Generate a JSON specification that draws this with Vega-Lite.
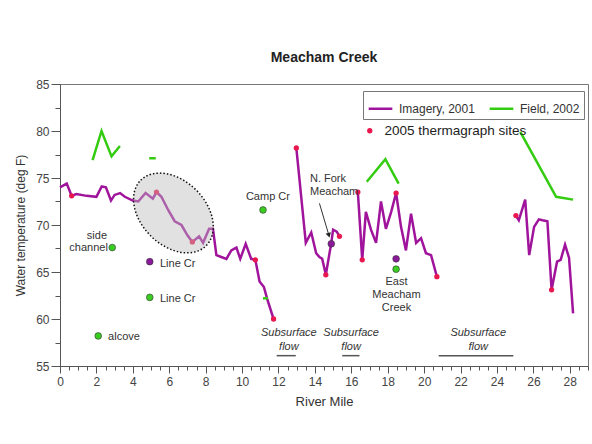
{
  "$schema": "https://vega.github.io/schema/vega-lite/v6.json",
  "width": 528,
  "height": 282,
  "autosize": {"type": "none"},
  "padding": {"left": 60, "top": 84, "right": 4, "bottom": 78},
  "background": "white",
  "title": {"text": "Meacham Creek", "fontSize": 14, "fontWeight": "bold", "font": "Liberation Sans", "color": "#222", "anchor": "middle", "offset": 13},
  "config": {
    "font": "Liberation Sans",
    "view": {"stroke": "#777", "strokeWidth": 1},
    "axis": {"grid": false, "domainColor": "#555", "tickColor": "#555", "labelColor": "#444", "labelFontSize": 12, "titleColor": "#333", "titleFontWeight": "normal", "labelFont": "Liberation Sans", "titleFont": "Liberation Sans"}
  },
  "datasets": {
    "lines": [
      {"series": "Imagery, 2001", "seg": "i1", "mile": 0, "temp": 74.0},
      {"series": "Imagery, 2001", "seg": "i1", "mile": 0.37, "temp": 74.4},
      {"series": "Imagery, 2001", "seg": "i1", "mile": 0.64, "temp": 73.1},
      {"series": "Imagery, 2001", "seg": "i1", "mile": 0.9, "temp": 73.3},
      {"series": "Imagery, 2001", "seg": "i1", "mile": 1.46, "temp": 73.1},
      {"series": "Imagery, 2001", "seg": "i1", "mile": 2.0, "temp": 73.0},
      {"series": "Imagery, 2001", "seg": "i1", "mile": 2.29, "temp": 74.1},
      {"series": "Imagery, 2001", "seg": "i1", "mile": 2.52, "temp": 74.0},
      {"series": "Imagery, 2001", "seg": "i1", "mile": 2.8, "temp": 72.6},
      {"series": "Imagery, 2001", "seg": "i1", "mile": 3.0, "temp": 73.2},
      {"series": "Imagery, 2001", "seg": "i1", "mile": 3.3, "temp": 73.4},
      {"series": "Imagery, 2001", "seg": "i1", "mile": 3.56, "temp": 73.0},
      {"series": "Imagery, 2001", "seg": "i1", "mile": 4.0, "temp": 72.6},
      {"series": "Imagery, 2001", "seg": "i1", "mile": 4.3, "temp": 72.5},
      {"series": "Imagery, 2001", "seg": "i1", "mile": 4.7, "temp": 73.4},
      {"series": "Imagery, 2001", "seg": "i1", "mile": 5.1, "temp": 72.8},
      {"series": "Imagery, 2001", "seg": "i1", "mile": 5.3, "temp": 73.5},
      {"series": "Imagery, 2001", "seg": "i1", "mile": 5.57, "temp": 73.0},
      {"series": "Imagery, 2001", "seg": "i1", "mile": 5.94, "temp": 71.6},
      {"series": "Imagery, 2001", "seg": "i1", "mile": 6.3, "temp": 70.4},
      {"series": "Imagery, 2001", "seg": "i1", "mile": 6.67, "temp": 70.0},
      {"series": "Imagery, 2001", "seg": "i1", "mile": 7.0, "temp": 68.9},
      {"series": "Imagery, 2001", "seg": "i1", "mile": 7.27, "temp": 68.2},
      {"series": "Imagery, 2001", "seg": "i1", "mile": 7.64, "temp": 68.8},
      {"series": "Imagery, 2001", "seg": "i1", "mile": 7.86, "temp": 68.1},
      {"series": "Imagery, 2001", "seg": "i1", "mile": 8.19, "temp": 69.6},
      {"series": "Imagery, 2001", "seg": "i1", "mile": 8.4, "temp": 69.6},
      {"series": "Imagery, 2001", "seg": "i1", "mile": 8.59, "temp": 66.8},
      {"series": "Imagery, 2001", "seg": "i1", "mile": 8.86, "temp": 66.6},
      {"series": "Imagery, 2001", "seg": "i1", "mile": 9.14, "temp": 66.4},
      {"series": "Imagery, 2001", "seg": "i1", "mile": 9.41, "temp": 67.3},
      {"series": "Imagery, 2001", "seg": "i1", "mile": 9.69, "temp": 67.6},
      {"series": "Imagery, 2001", "seg": "i1", "mile": 9.9, "temp": 66.4},
      {"series": "Imagery, 2001", "seg": "i1", "mile": 10.2, "temp": 68.0},
      {"series": "Imagery, 2001", "seg": "i1", "mile": 10.5, "temp": 66.4},
      {"series": "Imagery, 2001", "seg": "i1", "mile": 10.73, "temp": 66.3},
      {"series": "Imagery, 2001", "seg": "i1", "mile": 10.96, "temp": 64.0},
      {"series": "Imagery, 2001", "seg": "i1", "mile": 11.2, "temp": 63.4},
      {"series": "Imagery, 2001", "seg": "i1", "mile": 11.37, "temp": 62.2},
      {"series": "Imagery, 2001", "seg": "i1", "mile": 11.73, "temp": 60.0},
      {"series": "Imagery, 2001", "seg": "i2", "mile": 12.98, "temp": 78.2},
      {"series": "Imagery, 2001", "seg": "i2", "mile": 13.5, "temp": 68.1},
      {"series": "Imagery, 2001", "seg": "i2", "mile": 13.8, "temp": 69.2},
      {"series": "Imagery, 2001", "seg": "i2", "mile": 14.07, "temp": 67.0},
      {"series": "Imagery, 2001", "seg": "i2", "mile": 14.25, "temp": 66.6},
      {"series": "Imagery, 2001", "seg": "i2", "mile": 14.4, "temp": 66.4},
      {"series": "Imagery, 2001", "seg": "i2", "mile": 14.6, "temp": 64.7},
      {"series": "Imagery, 2001", "seg": "i2", "mile": 14.9, "temp": 68.1},
      {"series": "Imagery, 2001", "seg": "i2", "mile": 15.0, "temp": 69.5},
      {"series": "Imagery, 2001", "seg": "i2", "mile": 15.2, "temp": 69.3},
      {"series": "Imagery, 2001", "seg": "i2", "mile": 15.35, "temp": 68.8},
      {"series": "Imagery, 2001", "seg": "i3", "mile": 16.36, "temp": 73.5},
      {"series": "Imagery, 2001", "seg": "i3", "mile": 16.6, "temp": 66.3},
      {"series": "Imagery, 2001", "seg": "i3", "mile": 16.8, "temp": 71.4},
      {"series": "Imagery, 2001", "seg": "i3", "mile": 17.08, "temp": 69.5},
      {"series": "Imagery, 2001", "seg": "i3", "mile": 17.36, "temp": 68.1},
      {"series": "Imagery, 2001", "seg": "i3", "mile": 17.63, "temp": 72.5},
      {"series": "Imagery, 2001", "seg": "i3", "mile": 17.9, "temp": 69.6},
      {"series": "Imagery, 2001", "seg": "i3", "mile": 18.19, "temp": 71.4},
      {"series": "Imagery, 2001", "seg": "i3", "mile": 18.46, "temp": 73.4},
      {"series": "Imagery, 2001", "seg": "i3", "mile": 18.73, "temp": 69.8},
      {"series": "Imagery, 2001", "seg": "i3", "mile": 19.0, "temp": 67.3},
      {"series": "Imagery, 2001", "seg": "i3", "mile": 19.28, "temp": 71.2},
      {"series": "Imagery, 2001", "seg": "i3", "mile": 19.56, "temp": 68.1},
      {"series": "Imagery, 2001", "seg": "i3", "mile": 19.83, "temp": 68.6},
      {"series": "Imagery, 2001", "seg": "i3", "mile": 20.1, "temp": 67.0},
      {"series": "Imagery, 2001", "seg": "i3", "mile": 20.38, "temp": 66.8},
      {"series": "Imagery, 2001", "seg": "i3", "mile": 20.7, "temp": 64.5},
      {"series": "Imagery, 2001", "seg": "i4", "mile": 25.04, "temp": 71.0},
      {"series": "Imagery, 2001", "seg": "i4", "mile": 25.2, "temp": 70.5},
      {"series": "Imagery, 2001", "seg": "i4", "mile": 25.55, "temp": 72.7},
      {"series": "Imagery, 2001", "seg": "i4", "mile": 25.77, "temp": 66.8},
      {"series": "Imagery, 2001", "seg": "i4", "mile": 26.04, "temp": 69.8},
      {"series": "Imagery, 2001", "seg": "i4", "mile": 26.3, "temp": 70.6},
      {"series": "Imagery, 2001", "seg": "i4", "mile": 26.5, "temp": 70.5},
      {"series": "Imagery, 2001", "seg": "i4", "mile": 26.77, "temp": 70.4},
      {"series": "Imagery, 2001", "seg": "i4", "mile": 27.0, "temp": 63.1},
      {"series": "Imagery, 2001", "seg": "i4", "mile": 27.3, "temp": 66.1},
      {"series": "Imagery, 2001", "seg": "i4", "mile": 27.5, "temp": 66.3},
      {"series": "Imagery, 2001", "seg": "i4", "mile": 27.74, "temp": 67.9},
      {"series": "Imagery, 2001", "seg": "i4", "mile": 27.96, "temp": 66.5},
      {"series": "Imagery, 2001", "seg": "i4", "mile": 28.18, "temp": 60.6},
      {"series": "Field, 2002", "seg": "f1", "mile": 1.79, "temp": 76.9},
      {"series": "Field, 2002", "seg": "f1", "mile": 2.28, "temp": 80.0},
      {"series": "Field, 2002", "seg": "f1", "mile": 2.83, "temp": 77.3},
      {"series": "Field, 2002", "seg": "f1", "mile": 3.29, "temp": 78.4},
      {"series": "Field, 2002", "seg": "f2", "mile": 4.9, "temp": 77.1},
      {"series": "Field, 2002", "seg": "f2", "mile": 5.26, "temp": 77.1},
      {"series": "Field, 2002", "seg": "f3", "mile": 11.15, "temp": 62.2},
      {"series": "Field, 2002", "seg": "f3", "mile": 11.42, "temp": 62.2},
      {"series": "Field, 2002", "seg": "f4", "mile": 16.85, "temp": 74.6},
      {"series": "Field, 2002", "seg": "f4", "mile": 17.87, "temp": 77.0},
      {"series": "Field, 2002", "seg": "f4", "mile": 18.6, "temp": 74.4},
      {"series": "Field, 2002", "seg": "f5", "mile": 25.28, "temp": 79.9},
      {"series": "Field, 2002", "seg": "f5", "mile": 27.25, "temp": 73.0},
      {"series": "Field, 2002", "seg": "f5", "mile": 28.18, "temp": 72.7}
    ],
    "sites": [
      {"kind": "2005 thermagraph sites", "mile": 0.64, "temp": 73.1},
      {"kind": "2005 thermagraph sites", "mile": 5.3, "temp": 73.5},
      {"kind": "2005 thermagraph sites", "mile": 7.27, "temp": 68.2},
      {"kind": "2005 thermagraph sites", "mile": 10.73, "temp": 66.3},
      {"kind": "2005 thermagraph sites", "mile": 11.73, "temp": 60.0},
      {"kind": "2005 thermagraph sites", "mile": 12.98, "temp": 78.2},
      {"kind": "2005 thermagraph sites", "mile": 14.6, "temp": 64.7},
      {"kind": "2005 thermagraph sites", "mile": 15.35, "temp": 68.8},
      {"kind": "2005 thermagraph sites", "mile": 16.36, "temp": 73.5},
      {"kind": "2005 thermagraph sites", "mile": 16.6, "temp": 66.3},
      {"kind": "2005 thermagraph sites", "mile": 18.46, "temp": 73.4},
      {"kind": "2005 thermagraph sites", "mile": 20.7, "temp": 64.5},
      {"kind": "2005 thermagraph sites", "mile": 25.04, "temp": 71.0},
      {"kind": "2005 thermagraph sites", "mile": 27.0, "temp": 63.1}
    ],
    "tribs": [
      {"series": "Field, 2002", "name": "side channel", "mile": 2.87, "temp": 67.6},
      {"series": "Imagery, 2001", "name": "Line Cr", "mile": 4.93, "temp": 66.1},
      {"series": "Field, 2002", "name": "Line Cr", "mile": 4.93, "temp": 62.3},
      {"series": "Field, 2002", "name": "alcove", "mile": 2.1, "temp": 58.2},
      {"series": "Field, 2002", "name": "Camp Cr", "mile": 11.15, "temp": 71.6},
      {"series": "Imagery, 2001", "name": "N. Fork Meacham", "mile": 14.9, "temp": 68.0},
      {"series": "Imagery, 2001", "name": "East Meacham Creek", "mile": 18.46, "temp": 66.4},
      {"series": "Field, 2002", "name": "East Meacham Creek", "mile": 18.46, "temp": 65.3}
    ],
    "labelsCenter": [
      {"text": "side", "mile": 2.03, "temp": 68.83},
      {"text": "channel", "mile": 1.57, "temp": 67.55},
      {"text": "Camp Cr", "mile": 11.42, "temp": 72.98},
      {"text": "East", "mile": 18.48, "temp": 63.94},
      {"text": "Meacham", "mile": 18.48, "temp": 62.55},
      {"text": "Creek", "mile": 18.48, "temp": 61.17}
    ],
    "labelsLeft": [
      {"text": "Line Cr", "mile": 5.49, "temp": 65.85},
      {"text": "Line Cr", "mile": 5.49, "temp": 62.13},
      {"text": "alcove", "mile": 2.64, "temp": 58.09},
      {"text": "N. Fork", "mile": 13.73, "temp": 74.89},
      {"text": "Meacham", "mile": 13.73, "temp": 73.51}
    ],
    "labelsItalic": [
      {"text": "Subsurface", "mile": 12.57, "temp": 58.5},
      {"text": "flow", "mile": 12.57, "temp": 57.0},
      {"text": "Subsurface", "mile": 15.99, "temp": 58.5},
      {"text": "flow", "mile": 15.99, "temp": 57.0},
      {"text": "Subsurface", "mile": 22.97, "temp": 58.5},
      {"text": "flow", "mile": 22.97, "temp": 57.0}
    ],
    "subsurface": [
      {"from": 11.9, "to": 12.95, "temp": 56.1},
      {"from": 15.5, "to": 16.45, "temp": 56.1},
      {"from": 20.8, "to": 24.9, "temp": 56.1}
    ],
    "arrow": [
      {"mile": 14.25, "temp": 72.3, "mile2": 14.77, "temp2": 68.9}
    ],
    "highlight": [
      {"mile": 6.23, "temp": 71.28}
    ]
  },
  "encoding": {
    "x": {"field": "mile", "type": "quantitative", "scale": {"domain": [0, 29], "nice": false, "zero": false},
      "axis": {"title": "River Mile", "titleFontSize": 13, "titlePadding": 8,
        "values": [0,0.5,1,1.5,2,2.5,3,3.5,4,4.5,5,5.5,6,6.5,7,7.5,8,8.5,9,9.5,10,10.5,11,11.5,12,12.5,13,13.5,14,14.5,15,15.5,16,16.5,17,17.5,18,18.5,19,19.5,20,20.5,21,21.5,22,22.5,23,23.5,24,24.5,25,25.5,26,26.5,27,27.5,28,28.5,29],
        "labelExpr": "datum.value % 2 === 0 ? format(datum.value, 'd') : ''",
        "tickSize": {"condition": {"test": "datum.value % 2 === 0", "value": 7}, "value": 4},
        "labelPadding": 3, "labelFlush": false}},
    "y": {"field": "temp", "type": "quantitative", "scale": {"domain": [55, 85], "nice": false, "zero": false},
      "axis": {"title": "Water temperature (deg F)", "titleFontSize": 12, "titlePadding": 8,
        "values": [55,57.5,60,62.5,65,67.5,70,72.5,75,77.5,80,82.5,85],
        "labelExpr": "datum.value % 5 === 0 ? format(datum.value, 'd') : ''",
        "tickSize": {"condition": {"test": "datum.value % 5 === 0", "value": 9}, "value": 5},
        "labelPadding": 2}}
  },
  "layer": [
    {
      "data": {"name": "subsurface"},
      "mark": {"type": "rule", "color": "#555", "strokeWidth": 1.5},
      "encoding": {"x": {"field": "from", "type": "quantitative"}, "x2": {"field": "to"}, "y": {"field": "temp", "type": "quantitative"}}
    },
    {
      "data": {"name": "lines"},
      "mark": {"type": "line", "strokeWidth": 2.5},
      "encoding": {
        "color": {"field": "series", "type": "nominal",
          "scale": {"domain": ["Imagery, 2001", "Field, 2002"], "range": ["#a0149c", "#33cc11"]},
          "legend": {"title": null, "orient": "none", "legendX": 303, "legendY": 7, "direction": "horizontal", "columns": 2,
            "strokeColor": "#777", "padding": 4, "symbolType": "stroke", "symbolSize": 560, "symbolStrokeWidth": 2.5,
            "labelFontSize": 12, "labelOffset": 5, "labelColor": "#333", "columnPadding": 9, "labelFont": "Liberation Sans"}},
        "detail": {"field": "seg", "type": "nominal"}
      }
    },
    {
      "data": {"name": "sites"},
      "mark": {"type": "point", "filled": true, "color": "#e8174f", "size": 28, "opacity": 1},
      "encoding": {
        "shape": {"field": "kind", "type": "nominal", "scale": {"range": ["circle"]},
          "legend": {"title": null, "orient": "none", "legendX": 303, "legendY": 40, "padding": 0,
            "labelFontSize": 13.5, "labelColor": "#222", "symbolSize": 28, "labelOffset": 8, "labelFont": "Liberation Sans"}}
      }
    },
    {
      "data": {"name": "tribs"},
      "mark": {"type": "point", "filled": true, "size": 45, "stroke": "#333", "strokeWidth": 0.6, "opacity": 1},
      "encoding": {
        "fill": {"field": "series", "type": "nominal",
          "scale": {"domain": ["Imagery, 2001", "Field, 2002"], "range": ["#8a1a9a", "#3bcc22"]}, "legend": null}
      }
    },
    {
      "data": {"name": "labelsCenter"},
      "mark": {"type": "text", "fontSize": 11, "color": "#333", "align": "center", "baseline": "middle"},
      "encoding": {"text": {"field": "text"}}
    },
    {
      "data": {"name": "labelsLeft"},
      "mark": {"type": "text", "fontSize": 11, "color": "#333", "align": "left", "baseline": "middle"},
      "encoding": {"text": {"field": "text"}}
    },
    {
      "data": {"name": "labelsItalic"},
      "mark": {"type": "text", "fontSize": 11, "color": "#333", "align": "center", "baseline": "middle", "fontStyle": "italic"},
      "encoding": {"text": {"field": "text"}}
    },
    {
      "data": {"name": "arrow"},
      "mark": {"type": "rule", "color": "#333", "strokeWidth": 1},
      "encoding": {"x2": {"field": "mile2"}, "y2": {"field": "temp2"}}
    },
    {
      "data": {"name": "arrow"},
      "mark": {"type": "point", "shape": "triangle-down", "filled": true, "color": "#222", "size": 30, "angle": -16, "opacity": 1},
      "encoding": {"x": {"field": "mile2", "type": "quantitative"}, "y": {"field": "temp2", "type": "quantitative"}}
    },
    {
      "data": {"name": "highlight"},
      "mark": {"type": "point", "shape": "M -0.7071 -0.7071 A 1 0.7 45 0 1 0.7071 0.7071 A 1 0.7 45 0 1 -0.7071 -0.7071 Z",
        "size": 8575, "filled": false, "fill": "#bdbdbd", "fillOpacity": 0.45, "stroke": "#111", "strokeWidth": 1.5, "strokeDash": [1.5, 2], "opacity": 1, "strokeOpacity": 1}
    }
  ]
}
